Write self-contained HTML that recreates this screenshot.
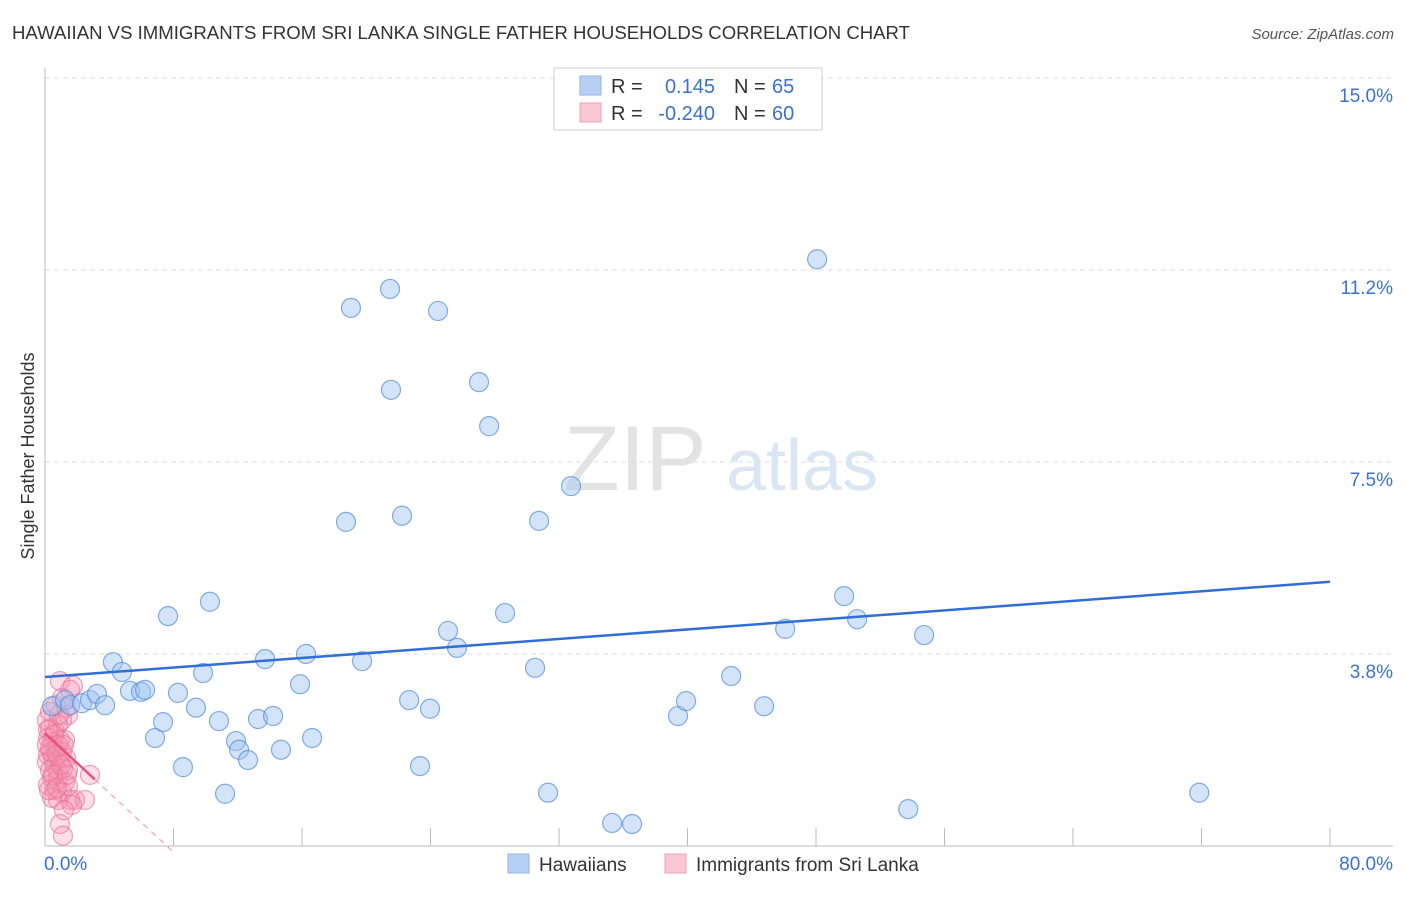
<!DOCTYPE html>
<html><head><meta charset="utf-8"><style>
body{margin:0;background:#fff;font-family:"Liberation Sans",sans-serif;}
svg text{font-family:"Liberation Sans",sans-serif;}
</style></head><body>
<svg id="chart" width="1406" height="892" viewBox="0 0 1406 892" xmlns="http://www.w3.org/2000/svg">
<text x="12" y="39" font-size="18" fill="#333" textLength="898" lengthAdjust="spacingAndGlyphs">HAWAIIAN VS IMMIGRANTS FROM SRI LANKA SINGLE FATHER HOUSEHOLDS CORRELATION CHART</text>
<text x="1394" y="39" font-size="15" fill="#555" text-anchor="end" font-style="italic">Source: ZipAtlas.com</text>
<text transform="translate(34,456) rotate(-90)" font-size="18" fill="#333" text-anchor="middle">Single Father Households</text>
<g>
<text x="635" y="490" font-size="92" fill="#e3e3e3" text-anchor="middle" font-family="Liberation Serif">ZIP</text>
<text x="802" y="490" font-size="72" fill="#dbe6f5" text-anchor="middle">atlas</text>
</g>
<g id="grid"></g><g id="axes"></g><g id="pts"></g><g id="trend"></g>
<g>
<rect x="554" y="68" width="268" height="62" fill="#fff" stroke="#ccc"/>
<rect x="580" y="76" width="21" height="19" fill="#b7d0f3" stroke="#8fb3e8"/>
<rect x="580" y="103" width="21" height="19" fill="#f9c6d5" stroke="#f0a0b9"/>
<text x="611" y="93" font-size="20" fill="#333">R =</text>
<text x="715" y="93" font-size="20" fill="#3a72d0" text-anchor="end">0.145</text>
<text x="734" y="93" font-size="20" fill="#333">N =</text>
<text x="772" y="93" font-size="20" fill="#3a72d0">65</text>
<text x="611" y="120" font-size="20" fill="#333">R =</text>
<text x="715" y="120" font-size="20" fill="#3a72d0" text-anchor="end">-0.240</text>
<text x="734" y="120" font-size="20" fill="#333">N =</text>
<text x="772" y="120" font-size="20" fill="#3a72d0">60</text>
</g>
<g>
<rect x="508" y="854" width="21" height="19" fill="#b7d0f3" stroke="#8fb3e8"/>
<text x="539" y="871" font-size="19" fill="#333">Hawaiians</text>
<rect x="665" y="854" width="21" height="19" fill="#f9c6d5" stroke="#f0a0b9"/>
<text x="696" y="871" font-size="19" fill="#333">Immigrants from Sri Lanka</text>
</g>
</svg>
<script>
const yTicks=[3.75,7.5,11.25,15];
const yTickLabels=["3.8%","7.5%","11.2%","15.0%"];
const xTicks=[8,16,24,32,40,48,56,64,72,80];
const blueX=[0.44,1.25,1.56,2.30,2.80,3.24,3.74,4.23,4.79,5.29,5.98,6.23,6.85,7.35,7.66,8.28,8.59,9.40,9.84,10.27,10.83,11.21,11.89,12.08,12.64,13.26,13.70,14.20,14.69,15.88,16.25,16.63,18.74,19.05,19.74,21.48,21.54,22.23,22.67,23.35,23.97,24.47,25.09,25.65,27.02,27.65,28.64,30.51,30.76,31.32,32.75,35.31,36.55,39.41,39.91,42.72,44.77,46.08,48.07,49.75,50.56,53.74,54.73,71.86];
const blueY=[2.73,2.85,2.75,2.79,2.85,2.97,2.75,3.59,3.40,3.03,3.01,3.05,2.11,2.42,4.49,2.99,1.54,2.70,3.38,4.77,2.44,1.02,2.05,1.88,1.68,2.48,3.65,2.54,1.88,3.16,3.75,2.11,6.33,10.51,3.61,10.88,8.91,6.45,2.85,1.56,2.68,10.45,4.20,3.87,9.06,8.20,4.55,3.48,6.35,1.04,7.03,0.45,0.43,2.54,2.83,3.32,2.73,4.24,11.46,4.88,4.43,0.72,4.12,1.04];
const pinkX=[0.93,1.74,1.43,1.06,0.81,0.31,0.62,0.19,0.44,0.93,1.25,0.31,0.68,1.06,0.19,0.50,0.93,1.31,0.12,0.62,0.31,0.81,1.12,1.43,0.44,0.81,1.25,0.19,0.62,1.06,1.56,0.81,0.44,1.87,2.49,2.80,1.43,0.93,1.12,0.12,0.31,0.68,1.31,1.06,1.56,0.19,0.56,0.81,0.37,1.18,0.12,0.75,1.00,0.50,1.37,0.25,0.75,1.68,1.18,0.87];
const pinkY=[3.22,3.13,2.56,2.46,2.36,2.30,2.23,2.11,2.03,2.07,2.07,1.91,1.88,1.84,1.78,1.72,1.68,1.72,1.64,1.58,1.48,1.45,1.52,1.48,1.33,1.29,1.25,1.19,1.09,1.05,0.90,0.90,0.94,0.90,0.90,1.39,1.17,0.43,0.20,2.46,2.62,2.75,2.70,2.89,3.05,2.27,2.17,1.97,1.84,1.97,1.97,1.78,1.58,1.39,1.39,1.09,1.13,0.80,0.70,2.56];
const blueTrend=[3.30,5.16];
const pinkTrend=[2.2,-0.29];
const X0=45,X1=1330,Y0=846;
const sx=v=>X0+v*(X1-X0)/80;
const sy=v=>Y0-v*51.2;
const NS="http://www.w3.org/2000/svg";
function mk(tag,attrs,parent){const e=document.createElementNS(NS,tag);for(const k in attrs)e.setAttribute(k,attrs[k]);parent.appendChild(e);return e;}
const grid=document.getElementById('grid'),axes=document.getElementById('axes'),pts=document.getElementById('pts'),trend=document.getElementById('trend');
yTicks.forEach((t,i)=>{
  const l=mk('line',{x1:X0,x2:1393,y1:sy(t),y2:sy(t),stroke:'#ddd','stroke-dasharray':'5,4'},grid);
  
  
  const tx=mk('text',{x:1393,y:sy(t)+24,'font-size':19,fill:'#3a72d0','text-anchor':'end'},axes);
  tx.textContent=yTickLabels[i];
  
  
});
const ya=mk('line',{x1:X0,x2:X0,y1:68,y2:Y0,stroke:'#bbb'},axes);


const xa=mk('line',{x1:X0,x2:1393,y1:Y0,y2:Y0,stroke:'#bbb'},axes);


xTicks.forEach(t=>{
  const l=mk('line',{x1:sx(t),x2:sx(t),y1:828,y2:Y0,stroke:'#bbb'},axes);
  
  
});
const xl0=mk('text',{x:44,y:870,'font-size':19,fill:'#3a72d0'},axes);xl0.textContent='0.0%';


const xl1=mk('text',{x:1393,y:870,'font-size':19,fill:'#3a72d0','text-anchor':'end'},axes);xl1.textContent='80.0%';


pinkX.forEach((x,i)=>{
  const c=mk('circle',{cx:sx(x),cy:sy(pinkY[i]),r:9.5,fill:'rgba(245,150,180,0.3)',stroke:'rgba(235,110,150,0.65)','stroke-width':1.2},pts);
  
  
});
blueX.forEach((x,i)=>{
  const c=mk('circle',{cx:sx(x),cy:sy(blueY[i]),r:9.5,fill:'rgba(160,195,240,0.45)',stroke:'rgba(80,140,220,0.7)','stroke-width':1.2},pts);
  
  
});
const bt=mk('line',{x1:sx(0),y1:sy(blueTrend[0]),x2:sx(80),y2:sy(blueTrend[1]),stroke:'#2f6fd6','stroke-width':2.5},trend);


const pe=3.1,pd=8.1;
const pt=mk('line',{x1:sx(0),y1:sy(pinkTrend[0]),x2:sx(pe),y2:sy(pinkTrend[0]+pinkTrend[1]*pe),stroke:'#e8507f','stroke-width':2.5},trend);


const pdl=mk('line',{x1:sx(pe),y1:sy(pinkTrend[0]+pinkTrend[1]*pe),x2:sx(pd),y2:sy(pinkTrend[0]+pinkTrend[1]*pd),stroke:'#f0a0b8','stroke-width':1.2,'stroke-dasharray':'6,5'},trend);


</script>
</body></html>
